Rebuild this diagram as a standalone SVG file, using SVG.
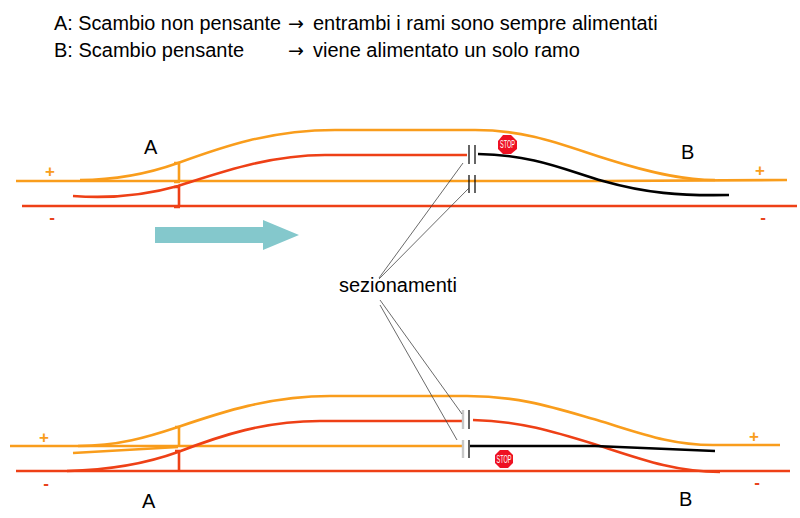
<svg xmlns="http://www.w3.org/2000/svg" width="800" height="518" viewBox="0 0 800 518">
<style>
text{font-family:"Liberation Sans",Arial,sans-serif;fill:#000}
.t{font-size:20px}
.l{font-size:20px}
.ar{font-family:"DejaVu Sans",sans-serif;font-size:19px}
.p{font-size:17px;font-weight:bold;text-anchor:middle}
.po{fill:#F99D1C}
.pm{fill:#E8431C}
.or{fill:none;stroke:#F99D1C;stroke-width:2.6}
.re{fill:none;stroke:#EE4016;stroke-width:2.6}
.bk{fill:none;stroke:#000;stroke-width:2.6}
.sec{fill:none;stroke:#000;stroke-width:1.2}
.gr{fill:none;stroke:#C8C8C8;stroke-width:2.4}
.th{fill:none;stroke:#444;stroke-width:.8}
.st{fill:#EE1122}
.sx{font-size:10px;fill:#fff;text-anchor:middle}
</style>
<rect width="800" height="518" fill="#fff"/>
<g id="header">
<text class="t" x="54" y="30" textLength="227" lengthAdjust="spacingAndGlyphs">A: Scambio non pensante</text>
<text class="ar" x="288" y="30">→</text>
<text class="t" x="313" y="30">entrambi i rami sono sempre alimentati</text>
<text class="t" x="54" y="57">B: Scambio pensante</text>
<text class="ar" x="288" y="57">→</text>
<text class="t" x="313" y="57">viene alimentato un solo ramo</text>
</g>
<g id="connectors">
<path class="or" d="M16 181H603L787 180"/>
<path class="re" d="M22 206H797"/>
<path class="or" d="M80 180C120 180 150 173 178 163C222 147 270 130 335 130H475C530 130 565 146 610 160C645 171 680 180 715 180"/>
<path class="re" d="M73 196C115 199 150 194 178 186C222 172 270 155 325 155H467"/>
<path class="bk" d="M478 154C535 155 565 170 603 181C645 193 680 196 729 195"/>
<path class="or" d="M174 163H180M179 162V182M174 182H180"/>
<path class="re" d="M174 187H180M179 186V207M174 207H180"/>
<path class="or" d="M10 446H463"/>
<path class="re" d="M16 471H790"/>
<path class="or" d="M78 446C118 446 148 437 178 427C222 412 270 396 330 396H467C520 396 555 408 597 420C640 433 670 445 713 445H780"/>
<path class="or" d="M73 453L178 447"/>
<path class="re" d="M67 471C110 470 145 464 178 452C222 435 265 421 320 421H463"/>
<path class="re" d="M473 420C520 421 555 432 597 445C640 459 675 472 720 472"/>
<path class="bk" d="M470 446H595L715 451"/>
<path class="or" d="M175 427H180M179 426V446"/>
<path class="re" d="M175 451H180M179 450V471"/>
<path class="sec" d="M469 145V164M475 145V164M469 175V193M475 175V193"/>
<path class="gr" d="M463 410V429M463 440V458"/>
<path class="sec" d="M469 410V429M469 440V458"/>
<path class="th" d="M379 278L463 163M379 279L469 188M380 300L462 414M380 305L457 440"/>
</g>
<g id="flow-arrow"><path fill="#84C8CC" d="M155 227H263V220L299 235L263 250V243H155Z"/></g>
<g id="labels">
<text class="l" x="144" y="154">A</text>
<text class="l" x="681" y="159">B</text>
<text class="l" x="339" y="292">sezionamenti</text>
<text class="l" x="142" y="508">A</text>
<text class="l" x="679" y="506">B</text>
<text class="p po" x="50" y="177">+</text>
<text class="p pm" x="52" y="223">-</text>
<text class="p po" x="760" y="176">+</text>
<text class="p pm" x="763" y="223">-</text>
<text class="p po" x="44" y="443">+</text>
<text class="p pm" x="46" y="489">-</text>
<text class="p po" x="754" y="442">+</text>
<text class="p pm" x="757" y="488">-</text>
</g>
<g id="stop-top">
<polygon class="st" points="503,135 511,135 517,141 517,149 511,154 503,154 498,149 498,141"/>
<text class="sx" x="507.5" y="148" textLength="15" lengthAdjust="spacingAndGlyphs">STOP</text>
</g>
<g id="stop-bottom">
<polygon class="st" points="500,450 508,450 513,455 513,463 508,468 500,468 495,463 495,455"/>
<text class="sx" x="504" y="463" textLength="15" lengthAdjust="spacingAndGlyphs">STOP</text>
</g>
</svg>
